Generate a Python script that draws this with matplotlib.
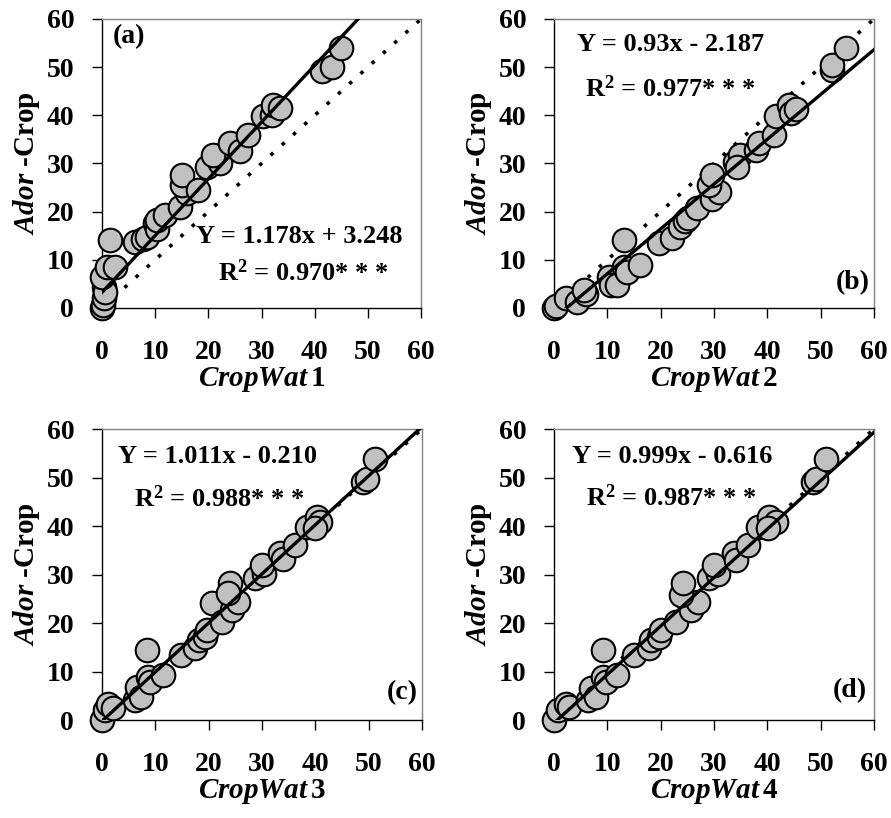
import numpy as np
import matplotlib
matplotlib.use('Agg')
import matplotlib.pyplot as plt

plt.rcParams['font.family'] = ['Liberation Serif', 'DejaVu Serif']
plt.rcParams['font.weight'] = 'bold'
plt.rcParams['mathtext.fontset'] = 'custom'
plt.rcParams['mathtext.rm'] = 'Liberation Serif:bold'
plt.rcParams['mathtext.bf'] = 'Liberation Serif:bold'
plt.rcParams['mathtext.it'] = 'Liberation Serif:italic:bold'

# CropWat estimate (x) and Ador-Crop (y), one pair per panel
cw1 = [0, 0.2, 0.3, 0.3, 0.5, 0, 0.9, 2.4, 1.5, 6.2, 7.8, 8.4, 10, 10.3, 10.3, 11.8,
       14.7, 15.9, 15, 15, 18.1, 19.7, 22.2, 20.9, 24, 26, 27.5, 30.3, 32, 32.2, 33.5,
       41.3, 43.2, 45]
ador1 = [0, 0.6, 2, 4.4, 3.4, 6.5, 8.6, 8.6, 14.1, 13.8, 14.4, 14.8, 17.6, 16.5, 18.3, 19.3,
         21, 23.8, 25.5, 27.6, 24.5, 29.3, 30, 31.8, 34.2, 32.5, 35.9, 39.8, 40, 42.1, 41.5,
         49.1, 50.1, 53.9]

cw2 = [0, 0.3, 2.2, 4.4, 6, 5.7, 10.3, 10.6, 11.9, 13.1, 13.1, 13.7, 16.2, 19.6, 22.1,
       23.6, 24.5, 25.2, 26.8, 29.6, 30.9, 29, 29.6, 34, 34.9, 34.3, 37.9, 38.5, 41.3, 41.6,
       44.1, 44.4, 45.3, 52.2, 52.2, 54.7]
ador2 = [0, 0.5, 2, 1.3, 3, 3.7, 6.5, 4.8, 4.8, 14.1, 8.6, 7.5, 8.9, 13.4, 14.5,
         16.9, 18, 18.6, 20.7, 22.7, 24.1, 25.5, 27.6, 30.4, 31.8, 29.3, 32.8, 34.2, 35.9, 39.8,
         42.2, 40.4, 41.4, 49.4, 50.4, 53.9]

cw3 = [0, 0.6, 1.2, 2.1, 6.2, 6.5, 7.4, 8.4, 8.7, 9, 11.5, 14.9, 17.4, 18.1, 19.3, 19.6,
       20.6, 22.5, 24.3, 25.6, 24, 23.7, 28.7, 30.3, 30, 33.4, 34, 36.2, 38.4, 40.3, 40.9,
       40, 49, 49.7, 51.2]
ador3 = [0, 2, 3.4, 2.4, 4.1, 6.9, 4.8, 14.4, 8.9, 7.9, 9.3, 13.4, 14.8, 16.5, 17.2, 18.6,
         24.1, 20.3, 22.7, 24.4, 28.2, 26.1, 29.2, 30.2, 32, 34.4, 33.3, 36.1, 39.9, 41.9, 40.9,
         39.5, 49.1, 49.8, 53.9]

cw4 = [0, 0.7, 2.25, 2.9, 6.3, 6.9, 7.9, 9.1, 9.1, 9.8, 11.9, 15, 17.9, 18.2, 19.7, 20.1,
       22.9, 25.7, 27, 23.8, 24.1, 29.1, 30.7, 30.1, 33.8, 34.1, 36.3, 38.2, 40.4, 41.7,
       40.1, 48.5, 49.2, 51]
ador4 = [0, 2.1, 3.4, 2.7, 4.1, 6.5, 4.8, 14.4, 8.9, 7.9, 9.3, 13.4, 14.8, 16.5, 17.2, 18.6,
         20.3, 22.7, 24.4, 25.8, 28.2, 29.2, 30.2, 32, 34.4, 33, 36.1, 39.9, 41.9, 40.9,
         39.5, 49.1, 49.8, 53.9]

slopes = [1.178, 0.93, 1.011, 0.999]
intercepts = [3.248, -2.187, -0.210, -0.616]
eq_texts = ['Y = 1.178x + 3.248', 'Y = 0.93x - 2.187', 'Y = 1.011x - 0.210', 'Y = 0.999x - 0.616']
r2_texts = ['0.970', '0.977', '0.988', '0.987']
tags = ['(a)', '(b)', '(c)', '(d)']
xlabels = [r'$\mathit{CropWat}\,$1', r'$\mathit{CropWat}\,$2',
           r'$\mathit{CropWat}\,$3', r'$\mathit{CropWat}\,$4']
ticks = [0, 10, 20, 30, 40, 50, 60]

xs = [cw1, cw2, cw3, cw4]
ys = [ador1, ador2, ador3, ador4]

fig = plt.figure(figsize=(8.91, 8.18), dpi=100)
rects = [[0.1145, 0.6235, 0.358, 0.3533],
         [0.6218, 0.6235, 0.359, 0.3533],
         [0.1145, 0.1198, 0.359, 0.3557],
         [0.6218, 0.1198, 0.359, 0.3557]]
# text positions in axes fraction: equation, R2, tag
eq_pos = [(0.617, 0.246), (0.363, 0.913), (0.36, 0.904), (0.369, 0.907)]
r2_pos = [(0.632, 0.121), (0.363, 0.76), (0.366, 0.76), (0.366, 0.763)]
tag_pos = [(0.033, 0.938), (0.935, 0.087), (0.94, 0.093), (0.925, 0.1)]

for i in range(4):
    ax = fig.add_axes(rects[i])
    xx = np.linspace(0, 60, 200)
    ax.plot([0, 60], [0, 60], color='black', lw=2.6, linestyle=(0, (1, 3.2)), zorder=1)
    ax.plot(xs[i], ys[i], 'o', ms=17, mfc='#c0c0c0', mec='black', mew=1.5,
            clip_on=False, zorder=3)
    ax.plot(xx, slopes[i] * xx + intercepts[i], color='black', lw=2.4, zorder=4)
    ax.set_xlim(0, 60)
    ax.set_ylim(0, 60)
    ax.set_xticks(ticks)
    ax.set_yticks(ticks)
    ax.tick_params(axis='x', length=7, width=1, pad=16, labelsize=20)
    ax.tick_params(axis='y', length=7, width=1, pad=13, labelsize=20)
    for lab in ax.get_xticklabels() + ax.get_yticklabels():
        lab.set_fontweight('bold')
    for s in ['top', 'right']:
        ax.spines[s].set_color('#808080')
        ax.spines[s].set_linewidth(1)
    for s in ['left', 'bottom']:
        ax.spines[s].set_color('black')
        ax.spines[s].set_linewidth(1)
    ax.set_xlabel(xlabels[i], fontsize=21, fontweight='bold', labelpad=0)
    ax.set_ylabel(r'$\mathit{Ador}$ -Crop', fontsize=21, fontweight='bold', labelpad=3)
    ax.text(eq_pos[i][0], eq_pos[i][1], eq_texts[i], transform=ax.transAxes,
            ha='center', va='center', fontsize=19, fontweight='bold', zorder=5)
    ax.text(r2_pos[i][0], r2_pos[i][1], r'R$^{2}$ = ' + r2_texts[i] + '* * *',
            transform=ax.transAxes, ha='center', va='center', fontsize=19,
            fontweight='bold', zorder=5)
    ax.text(tag_pos[i][0], tag_pos[i][1], tags[i], transform=ax.transAxes,
            ha='left' if i == 0 else 'center', va='center', fontsize=20,
            fontweight='bold', zorder=5)

fig.savefig('out.png', dpi=100)
